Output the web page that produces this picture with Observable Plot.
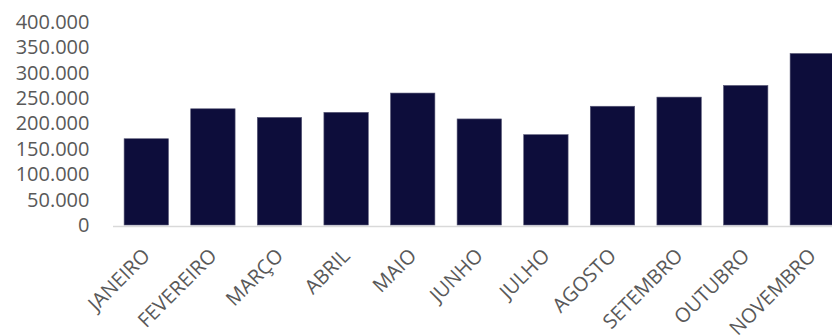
<!DOCTYPE html>
<html>
<head>
<meta charset="utf-8">
<script src="https://cdn.jsdelivr.net/npm/d3@7"></script>
<script src="https://cdn.jsdelivr.net/npm/@observablehq/plot@0.6"></script>
<style>
  html, body { margin: 0; padding: 0; background: #fff; overflow: hidden; }
  #chart { width: 832px; height: 336px; }
</style>
</head>
<body>
<div id="chart"></div>
<script>
// Monthly totals
const months = ["JANEIRO", "FEVEREIRO", "MARÇO", "ABRIL", "MAIO", "JUNHO",
                "JULHO", "AGOSTO", "SETEMBRO", "OUTUBRO", "NOVEMBRO"];
const totals = [170000, 229000, 212000, 222000, 260000, 209000,
                178000, 234000, 252000, 275000, 338000];
const yTicks = [0, 50000, 100000, 150000, 200000, 250000, 300000, 350000, 400000];

const rows = months.map((m, i) => ({month: m, total: totals[i]}));

// Brazilian number format: 400.000
const ptBR = d3.formatLocale({decimal: ",", thousands: ".", grouping: [3], currency: ["R$ ", ""]});
const fmt = ptBR.format(",d");

const font = "'Open Sans', sans-serif";
const labelColor = "#595959";

const chart = Plot.plot({
  width: 832,
  height: 336,
  marginLeft: 113,
  marginRight: 0,
  marginTop: 22,
  marginBottom: 111,
  style: {fontFamily: font, fontSize: "20px", color: labelColor, background: "#fff"},
  x: {domain: months, range: [113, 845.6], paddingInner: 1 / 3, paddingOuter: 1 / 6, round: false, axis: null},
  y: {domain: [0, 400000], axis: null},
  marks: [
    Plot.ruleY([0], {stroke: "#d9d9d9", strokeWidth: 1.5, dy: 1}),
    Plot.barY(rows, {x: "month", y: "total", fill: "#0d0d3b", stroke: "#5a5a78", strokeWidth: 0.6}),
    Plot.axisY({ticks: yTicks, tickFormat: fmt, tickSize: 0, tickPadding: 24, label: null,
                fontSize: 20, fill: labelColor}),
    // rotated month labels under each bar
    Plot.text(months, {x: d => d, frameAnchor: "bottom", rotate: -45, textAnchor: "end",
                       lineAnchor: "middle", dy: 27, dx: 0, fontSize: 20, fill: labelColor})
  ]
});

document.getElementById("chart").appendChild(chart);
</script>
</body>
</html>
